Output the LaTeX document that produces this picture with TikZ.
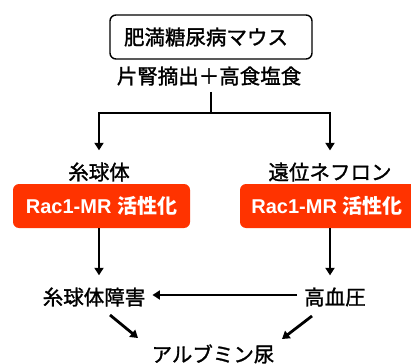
\documentclass[tikz,border=0pt]{standalone}
\usepackage{fontspec}
\setmainfont{Liberation Sans}
\newfontfamily\jp[FakeBold=1.4]{Noto Sans CJK JP}
\newfontfamily\jpb{Noto Sans CJK JP Bold}
\usetikzlibrary{arrows.meta}
\definecolor{accent}{HTML}{FF3300}
\tikzset{
  lbl/.style={font=\jp\fontsize{20.5}{24}\selectfont, inner sep=1pt},
  redbox/.style={fill=accent, rounded corners=6pt, minimum width=177pt, minimum height=44pt, inner sep=0pt, text=white, font=\bfseries\fontsize{20}{23}\selectfont},
  topbox/.style={draw, line width=1.4pt, rounded corners=6pt, minimum width=202pt, minimum height=44pt, inner sep=0pt, font=\jp\fontsize{20.5}{24}\selectfont},
  conn/.style={line width=2.8pt},
  arr/.style={conn, -{Triangle[length=7.5pt,width=9pt]}},
}
\begin{document}
\begin{tikzpicture}[x=1pt,y=-1pt]
\useasboundingbox (0,0) rectangle (411,363);
\clip (0,0) rectangle (411,363);
\node[topbox] (mouse) at (211,37) {\hspace*{-10pt}肥満糖尿病マウス};
\node[lbl] (proc) at (209,76) {片腎摘出＋高食塩食};
\coordinate (s0) at (211,92);
\coordinate (s1) at (211,113);
\node[lbl] (glo) at (99,172) {糸球体};
\node[lbl] (dist) at (330,172) {遠位ネフロン};
\node[redbox] (rl) at (101.5,206) {Rac1-MR {\jpb 活性化}};
\node[redbox] (rr) at (328.5,206) {\hspace*{-3pt}Rac1-MR {\jpb 活性化}};
\node[lbl] (gd) at (94,297) {糸球体障害};
\node[lbl] (hb) at (335,297) {高血圧};
\node[lbl] (alb) at (213,354) {アルブミン尿};
\draw[conn] (s0) -- (s1);
\draw[arr] (s1) -| ([yshift=11pt]glo.north);
\draw[arr] (s1) -| ([yshift=11pt]dist.north);
\draw[arr] (rl.south -| 99,0) -- ([yshift=11pt]gd.north -| 99,0);
\draw[arr] (rr.south -| 330,0) -- ([yshift=11pt]hb.north -| 330,0);
\draw[arr] ([xshift=-6pt]hb.west |- 0,295) -- ([xshift=6pt]gd.east |- 0,295);
\draw[arr] (110,315) -- (138,338);
\draw[arr] (312,316) -- (282,339);
\end{tikzpicture}
\end{document}
